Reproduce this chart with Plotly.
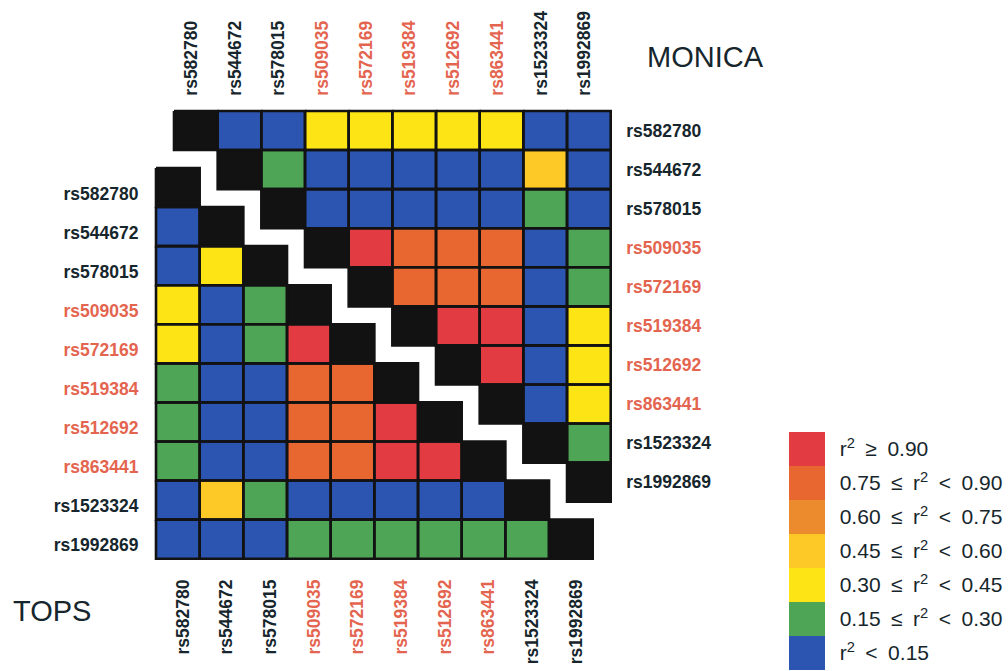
import numpy as np
import plotly.graph_objects as go

# ---------------- data ----------------
snps = ["rs582780", "rs544672", "rs578015", "rs509035", "rs572169",
        "rs519384", "rs512692", "rs863441", "rs1523324", "rs1992869"]
snp_highlight = [False, False, False, True, True, True, True, True, False, False]

# r2 class codes: 0: r2<0.15, 1: 0.15-0.30, 2: 0.30-0.45, 3: 0.45-0.60,
#                 4: 0.60-0.75, 5: 0.75-0.90, 6: r2>=0.90
# MONICA (upper triangle): row i lists columns i+1 .. 9
monica_rows = [
    [0, 0, 2, 2, 2, 2, 2, 0, 0],
    [1, 0, 0, 0, 0, 0, 3, 0],
    [0, 0, 0, 0, 0, 1, 0],
    [6, 5, 5, 5, 0, 1],
    [5, 5, 5, 0, 1],
    [6, 6, 0, 2],
    [6, 0, 2],
    [0, 2],
    [1],
    [],
]
# TOPS (lower triangle): row i lists columns 0 .. i-1
tops_rows = [
    [],
    [0],
    [0, 2],
    [2, 0, 1],
    [2, 0, 1, 6],
    [1, 0, 0, 5, 5],
    [1, 0, 0, 5, 5, 6],
    [1, 0, 0, 5, 5, 6, 6],
    [0, 3, 1, 0, 0, 0, 0, 0],
    [0, 0, 0, 1, 1, 1, 1, 1, 1],
]
class_labels = [
    "r<sup>2</sup>\u2002<\u20020.15",
    "0.15\u2002≤\u2002r<sup>2</sup>\u2002<\u20020.30",
    "0.30\u2002≤\u2002r<sup>2</sup>\u2002<\u20020.45",
    "0.45\u2002≤\u2002r<sup>2</sup>\u2002<\u20020.60",
    "0.60\u2002≤\u2002r<sup>2</sup>\u2002<\u20020.75",
    "0.75\u2002≤\u2002r<sup>2</sup>\u2002<\u20020.90",
    "r<sup>2</sup>\u2002≥\u20020.90",
]
class_colors = ["#2b55b0", "#4ea556", "#fde414", "#fcc926",
                "#ec8a2e", "#e8662f", "#e23c42"]

# ---------------- styles / geometry ----------------
W, H = 1008, 671
CW, CH = 43.67, 39.07
PAD = 0.06
BLACK = "#121212"
DARK = "#16262c"
RED_TXT = "#e4654f"
n = len(snps)

def build(rows, upper):
    z = np.full((n, n), np.nan)
    d = np.full((n, n), np.nan)
    for i, r in enumerate(rows):
        d[i, i] = 0
        cols = range(i + 1, n) if upper else range(0, i)
        for j, v in zip(cols, r):
            z[i, j] = v
    return z, d

def borders(z, d):
    xs, ys = [], []
    for i in range(n):
        for j in range(n):
            if np.isnan(z[i, j]) and np.isnan(d[i, j]):
                continue
            x0, x1, y0, y1 = j - 0.5, j + 0.5, i - 0.5, i + 0.5
            xs += [x0, x1, x1, x0, x0, None]
            ys += [y0, y0, y1, y1, y0, None]
    return xs, ys

n_cls = len(class_colors)
cscale = []
for k, c in enumerate(class_colors):
    cscale.append([k / n_cls, c])
    cscale.append([(k + 1) / n_cls, c])

ticktext = [
    f"<span style='color:{RED_TXT if h else DARK}'>{s}</span>"
    for s, h in zip(snps, snp_highlight)
]

fig = go.Figure()

for name, rows, upper, xa, ya in [("MONICA", monica_rows, True, "x", "y"),
                                  ("TOPS", tops_rows, False, "x2", "y2")]:
    z, d = build(rows, upper)
    fig.add_trace(go.Heatmap(
        z=z, x=list(range(n)), y=list(range(n)), xaxis=xa, yaxis=ya,
        zmin=-0.5, zmax=n_cls - 0.5, colorscale=cscale,
        showscale=upper, hoverongaps=False, name=name,
        colorbar=dict(
            tickvals=list(range(n_cls)), ticktext=class_labels,
            lenmode="pixels", len=7 * 34, thicknessmode="pixels", thickness=36,
            x=789 / W, xanchor="left", y=1 / H, yanchor="bottom",
            xpad=0, ypad=0, outlinewidth=0,
            ticks="outside", ticklen=11, tickcolor="rgba(0,0,0,0)",
            tickfont=dict(size=21, color=DARK, family="Liberation Sans, Arial"),
        ),
    ))
    fig.add_trace(go.Heatmap(
        z=d, x=list(range(n)), y=list(range(n)), xaxis=xa, yaxis=ya,
        zmin=0, zmax=1, colorscale=[[0, BLACK], [1, BLACK]],
        showscale=False, hoverongaps=False,
    ))
    bx, by = borders(z, d)
    fig.add_trace(go.Scatter(
        x=bx, y=by, xaxis=xa, yaxis=ya, mode="lines",
        line=dict(color=BLACK, width=2.6), hoverinfo="skip", showlegend=False,
    ))

def xdom(left):
    return [(left - PAD * CW) / W, (left + n * CW + PAD * CW) / W]

def ydom(top):
    return [1 - (top + n * CH + PAD * CH) / H, 1 - (top - PAD * CH) / H]

lab_font = dict(size=17.5, family="Liberation Sans, Arial", weight="bold")
common = dict(ticktext=ticktext, showgrid=False,
              zeroline=False, showline=False, ticks="", tickfont=lab_font,
              fixedrange=True)
idx = np.arange(n)

fig.update_layout(
    width=W, height=H,
    margin=dict(l=0, r=0, t=0, b=0, autoexpand=False),
    paper_bgcolor="white", plot_bgcolor="rgba(0,0,0,0)",
    showlegend=False,
    xaxis=dict(domain=xdom(174), range=[-0.5 - PAD, n - 0.5 + PAD], side="top",
               anchor="y", tickangle=-90, ticklabelstandoff=12,
               tickvals=list(idx - 0.1), **common),
    yaxis=dict(domain=ydom(111), range=[n - 0.5 + PAD, -0.5 - PAD], side="right",
               anchor="x", ticklabelstandoff=12, tickvals=list(idx), **common),
    xaxis2=dict(domain=xdom(156), range=[-0.5 - PAD, n - 0.5 + PAD], side="bottom",
                anchor="y2", tickangle=-90, ticklabelstandoff=14,
                tickvals=list(idx + 0.12), **common),
    yaxis2=dict(domain=ydom(168), range=[n - 0.5 + PAD, -0.5 - PAD], side="left",
                anchor="x2", ticklabelstandoff=14,
                tickvals=list(idx + 0.15), **common),
    annotations=[
        dict(text="MONICA", x=705 / W, y=1 - 57 / H, xref="paper", yref="paper",
             showarrow=False, xanchor="center", yanchor="middle",
             font=dict(size=29, color=DARK, family="Liberation Sans, Arial")),
        dict(text="TOPS", x=52 / W, y=1 - 611 / H, xref="paper", yref="paper",
             showarrow=False, xanchor="center", yanchor="middle",
             font=dict(size=29, color=DARK, family="Liberation Sans, Arial")),
    ],
)

fig.write_html(
    "out.html",
    config={"displayModeBar": False},
    post_script="document.body.style.margin='0';document.body.style.overflow='hidden';",
)
